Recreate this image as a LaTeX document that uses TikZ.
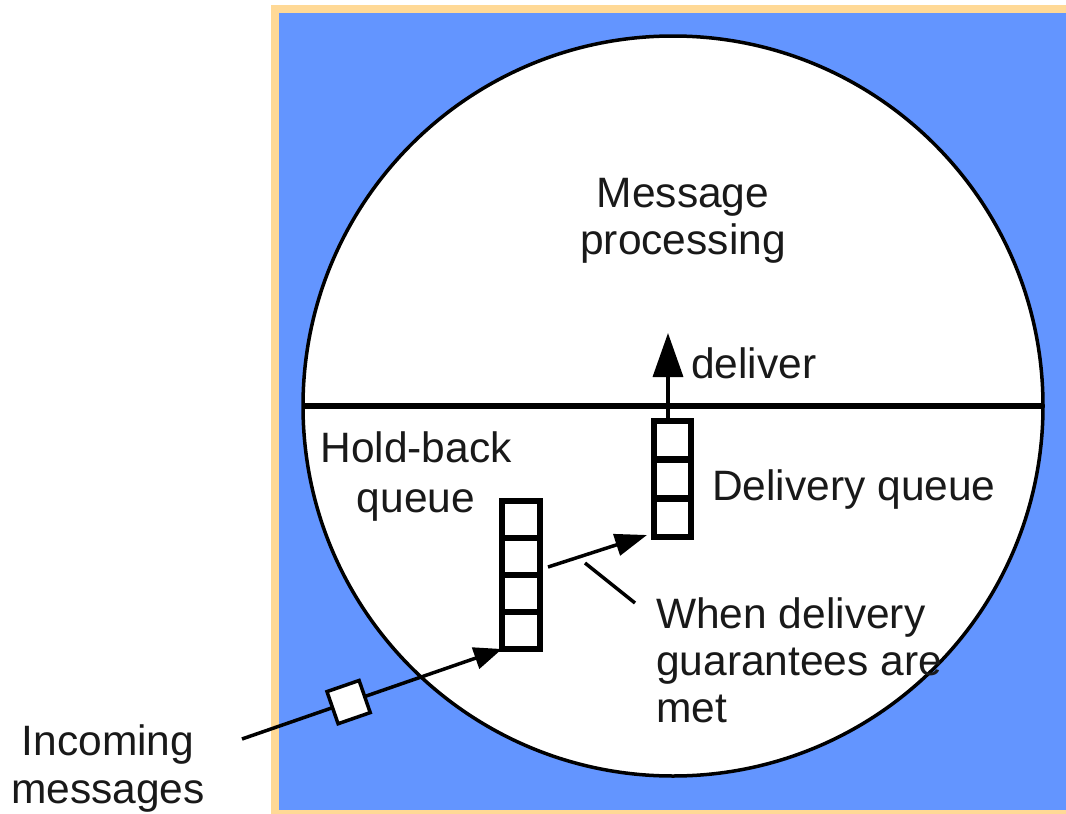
\documentclass[tikz,border=0pt]{standalone}
\usepackage{fontspec}
\setmainfont{Liberation Sans}
\usetikzlibrary{arrows.meta,calc}

\definecolor{panelblue}{RGB}{99,149,255}
\definecolor{paneltan}{RGB}{255,217,150}

\begin{document}
\begin{tikzpicture}[x=1pt,y=-1pt,
  lbl/.style={inner sep=0pt, font=\fontsize{42.5}{47}\selectfont, text=black!90},
  queuebox/.style={draw, line width=6.5pt, fill=white, outer sep=0pt, inner sep=0pt},
  flow/.style={line width=3.5pt},
  msgbox/.style={draw, fill=white, line width=3.5pt, minimum size=34pt, inner sep=0pt, sloped}
]
\useasboundingbox (0,0) rectangle (1066,814);

% framed blue panel
\fill[paneltan] (271,5) rectangle (1072,820);
\fill[panelblue] (279,13) rectangle (1072,810);

% process disk split into processing half and queue half
\node[circle, draw, fill=white, line width=3.5pt, minimum size=740pt, inner sep=0pt, outer sep=0pt] (disk) at (673,406) {};
\draw[line width=6pt] (disk.west) -- (disk.east);

% hold-back queue (four slots)
\node[queuebox, minimum width=38pt, minimum height=148pt] (hold) at (521,575) {};
\foreach \f in {0.25,0.5,0.75}
  \draw[line width=6.5pt] ($(hold.north west)!\f!(hold.south west)$) -- ($(hold.north east)!\f!(hold.south east)$);

% delivery queue (three slots)
\node[queuebox, minimum width=37pt, minimum height=116pt] (dq) at (672.5,479) {};
\foreach \f in {0.3333,0.6667}
  \draw[line width=6.5pt] ($(dq.north west)!\f!(dq.south west)$) -- ($(dq.north east)!\f!(dq.south east)$);

% incoming message stream
\coordinate (src) at (242,739);
\draw[flow, -{Triangle[length=28pt,width=22pt]}] (src) -- node[msgbox, pos=0.41] (msg) {} (hold.south west);

% hold-back -> delivery transfer
\coordinate (hout) at ($(hold.east)+(8,-8)$);
\coordinate (din) at ($(dq.south west)+(-7,-2)$);
\draw[flow, -{Triangle[length=32pt,width=22pt]}] (hout) -- (din);

% delivery to message processing
\coordinate (dbase) at ($(dq.north)+(-4.5,0)$);
\coordinate (dtip) at (668,333);
\draw[flow, -{Triangle[length=44pt,width=30pt]}] (dbase) -- (dtip);

% callout pointer
\coordinate (c1) at (585,563);
\coordinate (c2) at (635,603);
\draw[flow] (c1) -- (c2);

% labels (multi-line nodes are placed by the baseline of their last line)
\node[lbl, anchor=base, align=center] (tproc) at (683,254) {Message\\processing};
\node[lbl, anchor=base west] (tdeliver) at (691,378) {deliver};
\node[lbl, anchor=base, align=center, font=\fontsize{42.5}{50}\selectfont] (thold) at (416,512) {Hold-back\\queue};
\node[lbl, anchor=base west] (tdq) at (712,500) {Delivery queue};
\node[lbl, anchor=base west, align=left] (tcond) at (656,722) {When delivery\\guarantees are\\met};
\node[lbl, anchor=base, align=center, font=\fontsize{42.5}{48}\selectfont] (tin) at (108,803) {Incoming\\messages};
\end{tikzpicture}
\end{document}
